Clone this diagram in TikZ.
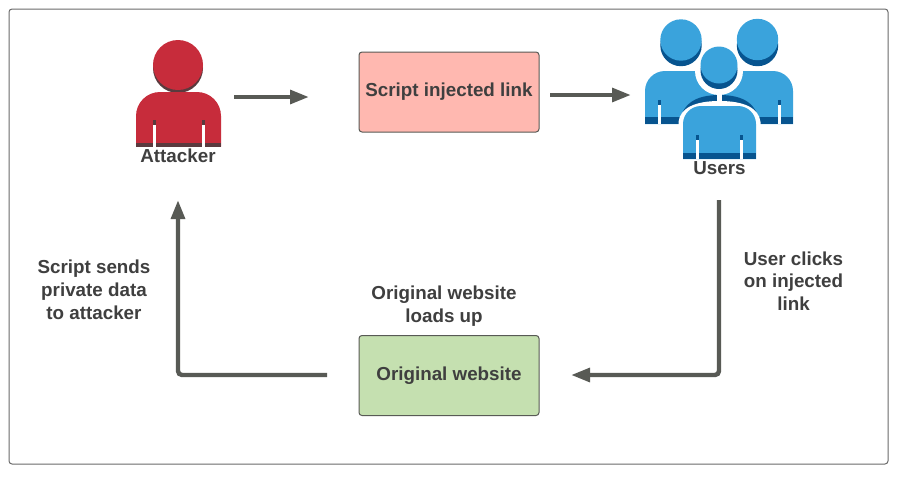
\documentclass[tikz,border=0pt]{standalone}
\usepackage{fontspec}
\setmainfont{Liberation Sans}
\usetikzlibrary{arrows.meta}
\definecolor{ink}{HTML}{3F3F3F}
\definecolor{wire}{HTML}{585A55}
\definecolor{frame}{HTML}{6A6A6A}
\definecolor{redl}{HTML}{C72C3B}
\definecolor{redd}{HTML}{5A3A3E}
\definecolor{bluel}{HTML}{3AA3DC}
\definecolor{blued}{HTML}{07548F}
\definecolor{pinkbox}{HTML}{FFB8B0}
\definecolor{greenbox}{HTML}{C5E0B0}
\tikzset{
  lbl/.style={font=\fontsize{18.8}{22.8}\selectfont\bfseries,text=ink,align=center,inner sep=0pt},
  flowbox/.style={draw=wire,line width=1pt,rounded corners=3pt,minimum width=180pt,minimum height=80pt,inner sep=0pt},
  flow/.style={draw=wire,line width=4.4pt,rounded corners=4pt,-{Triangle[length=19pt,width=13.5pt]}}
}
\newcommand{\bodyat}[8]{% x0 x1 ytop ybot radius light dark bandheight
  \fill[#6,rounded corners=#5] (#1,#4) -- (#1,#3) -- (#2,#3) -- (#2,#4);
  \fill[#7] (#1,#4-#8) rectangle (#2,#4);
}
\newcommand{\slit}[5]{% x0 x1 ytop ybot dark
  \fill[white] (#1,#3) rectangle (#2,#4);
  \fill[#5] (#1,#3-5) rectangle (#2,#3);
}
\begin{document}
\begin{tikzpicture}[x=1pt,y=-1pt]
\useasboundingbox (0,0) rectangle (900,477);
\draw[frame,line width=1pt,rounded corners=3pt,fill=white] (9,9) rectangle (888,464);

% attacker icon
\fill[redd] (178,68) circle (25);
\fill[redl] (178,65) circle (25);
\bodyat{136}{221}{92}{146.5}{24pt}{redl}{redd}{4}
\slit{153.2}{156}{125}{146.5}{redd}
\slit{202}{204.8}{125}{146.5}{redd}

% users icon: back row
\fill[blued] (681,45.5) circle (20.7);
\fill[bluel] (681,40) circle (20.7);
\fill[blued] (757.5,45.5) circle (20.7);
\fill[bluel] (757.5,39.5) circle (20.7);
\begin{scope}
  \clip (645,71) rectangle (793,124);
  \bodyat{645}{793}{71}{124}{20pt}{bluel}{blued}{7}
  \fill[blued] (679,126) .. controls (681,104) and (695,95) .. (719.5,95)
     .. controls (744,95) and (758,104) .. (760,126) -- cycle;
  \fill[white] (678.5,130) -- (678.5,122) .. controls (680,108) and (695,101) .. (719.5,101)
     .. controls (744,101) and (759,108) .. (760.5,122) -- (760.5,130) -- cycle;
  \fill[white] (717.3,90) rectangle (721.7,106);
\end{scope}
\slit{658.3}{661}{105}{124}{blued}
\slit{778.3}{781}{105}{124}{blued}
% users icon: front figure
\fill[white] (719,71) circle (24);
\fill[blued] (719,70.5) circle (18.5);
\fill[bluel] (719,65) circle (18.5);
\bodyat{683}{756}{106}{159}{18pt}{bluel}{blued}{6}
\slit{696.2}{699}{140}{159}{blued}
\slit{740}{742.8}{140}{159}{blued}

% nodes
\node[lbl] (attacker) at (178,155.5) {Attacker};
\node[lbl] (users) at (719.5,168.5) {Users};
\node[flowbox,fill=pinkbox,lbl] (script) at (449,92) {Script injected link};
\node[flowbox,fill=greenbox,lbl] (orig) at (449,375.5) {Original website};
\node[lbl] (sends) at (94,289.5) {Script sends\\private data\\to attacker};
\node[lbl] (clicks) at (793.5,281) {User clicks\\on injected\\link};
\node[lbl] (loads) at (444,306) {Original website\\loads up};

% connector ends
\coordinate (a1s) at (234,97);
\coordinate (a1e) at (309,97);
\coordinate (a2s) at (550,95);
\coordinate (a2e) at (631,95);
\coordinate (a3s) at (719,200);
\coordinate (a3m) at (719,375);
\coordinate (a3e) at (571,375);
\coordinate (a4s) at (327,375);
\coordinate (a4m) at (178,375);
\coordinate (a4e) at (178,200);

\draw[flow] (a1s) -- (a1e);
\draw[flow] (a2s) -- (a2e);
\draw[flow] (a3s) -- (a3m) -- (a3e);
\draw[flow] (a4s) -- (a4m) -- (a4e);
\end{tikzpicture}
\end{document}
